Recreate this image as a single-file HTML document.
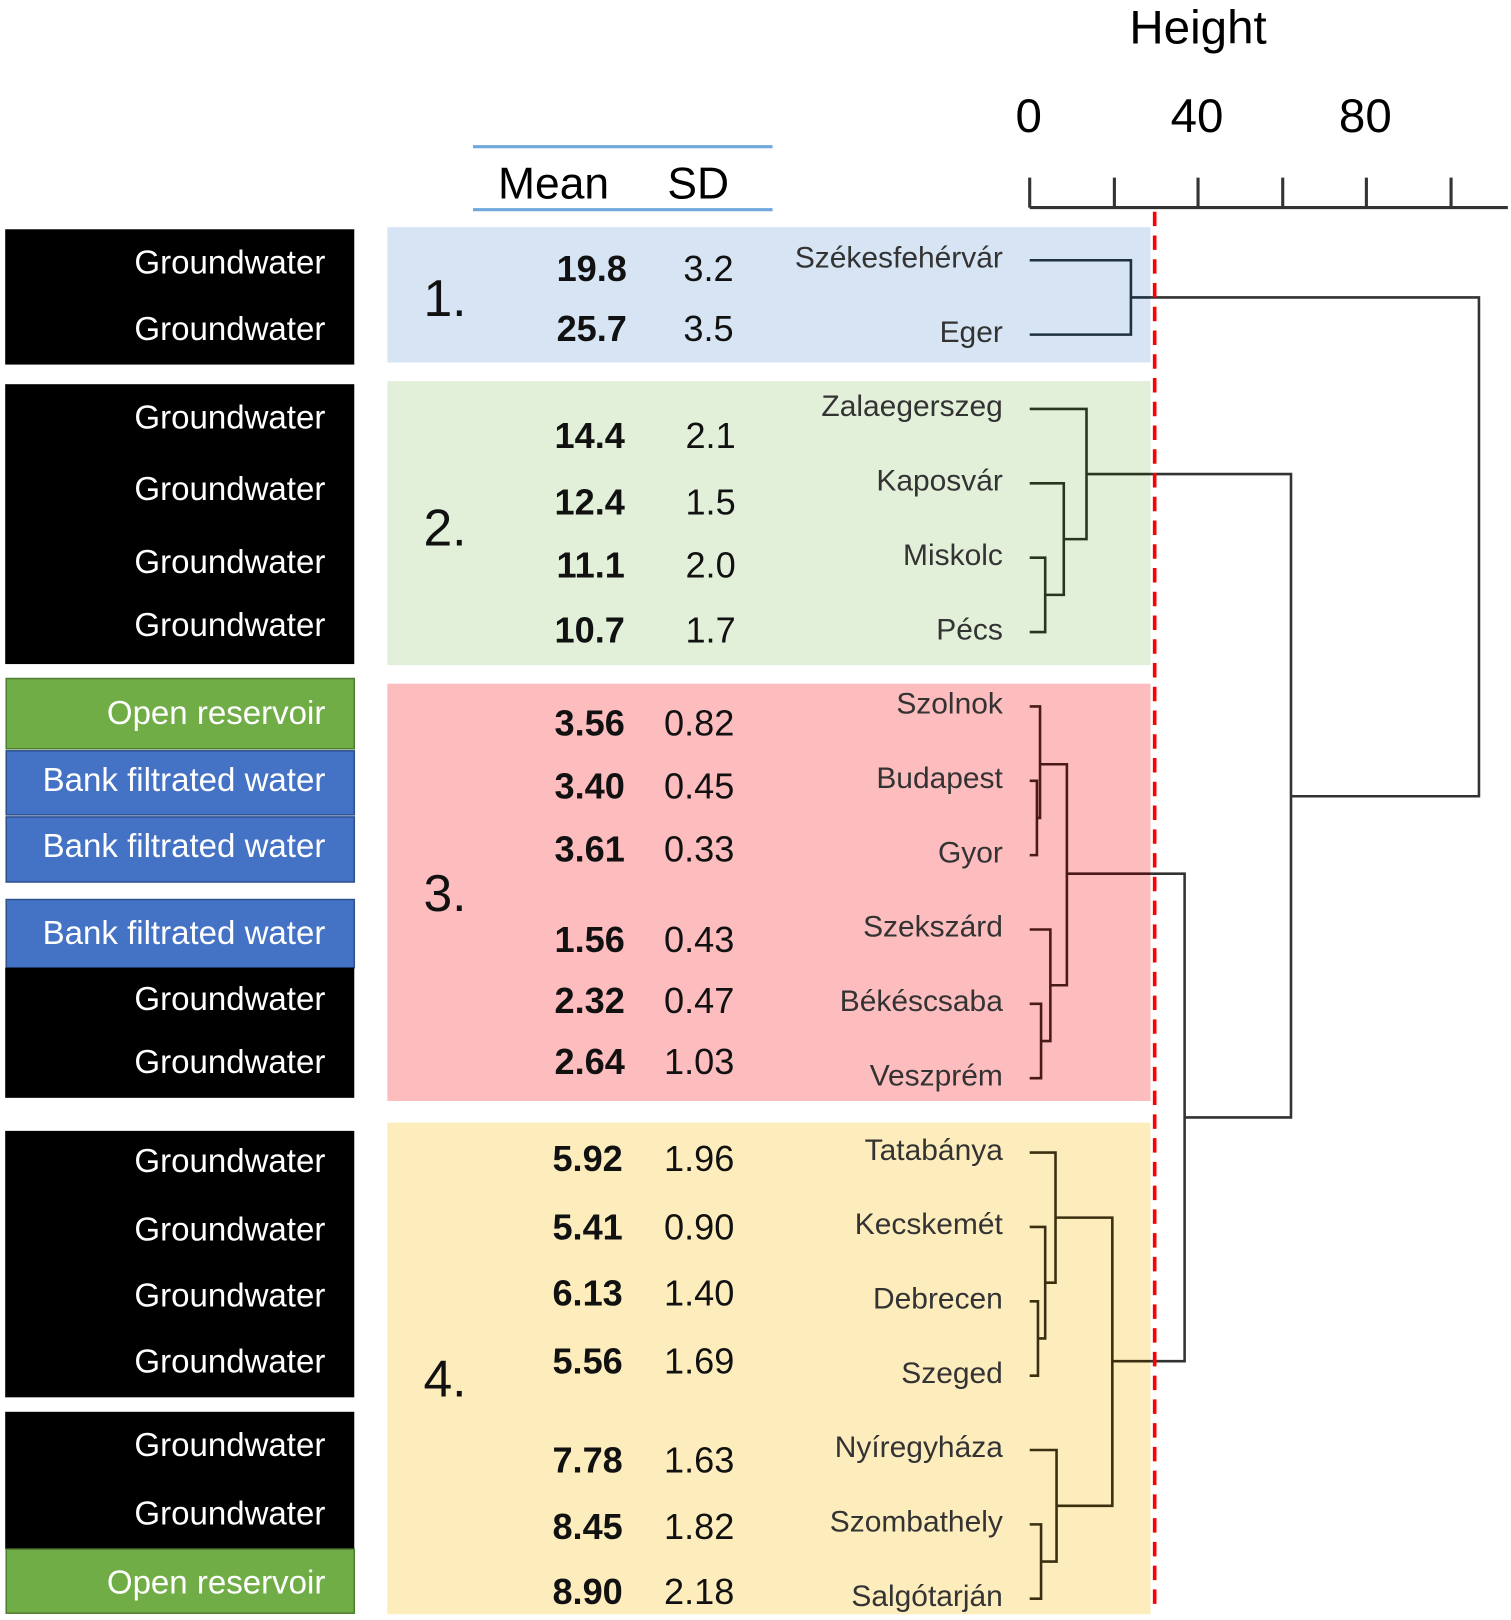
<!DOCTYPE html>
<html><head><meta charset="utf-8"><style>
html,body{margin:0;padding:0;background:#fff;}
svg{display:block}
text{font-family:"Liberation Sans",sans-serif;}
.lb{fill:#fff;font-size:32px;text-anchor:end}
.mn{font-weight:bold;font-size:35px;text-anchor:end;fill:#111}
.sd{font-size:35px;text-anchor:middle;fill:#111}
.ct{font-size:29px;text-anchor:end;fill:#333}
.cn{font-size:50px;fill:#111}
.d{fill:none;stroke-width:2.5}
</style></head><body>
<svg width="1511" height="1620" viewBox="0 0 1463 1568.6" xmlns="http://www.w3.org/2000/svg">
<text x="1160" y="42" style="font-size:46px" text-anchor="middle">Height</text>
<text x="996" y="128" style="font-size:46px" text-anchor="middle">0</text>
<text x="1159" y="128" style="font-size:46px" text-anchor="middle">40</text>
<text x="1322" y="128" style="font-size:46px" text-anchor="middle">80</text>
<g stroke="#333" stroke-width="3" fill="none">
<path d="M997 201H1460M997 172V201M1079 172V201M1160 172V201M1242 172V201M1323 172V201M1405 172V201"/>
</g>
<path d="M458 142H748M458 203H748" stroke="#6fa8dc" stroke-width="3"/>
<text x="536" y="192" style="font-size:43px" text-anchor="middle">Mean</text>
<text x="676" y="192" style="font-size:43px" text-anchor="middle">SD</text>

<rect x="375" y="220" width="739" height="131" fill="#d6e4f3"/>
<rect x="375" y="369" width="739" height="275" fill="#e2efd9"/>
<rect x="375" y="662" width="739" height="404" fill="#fdbcbd"/>
<rect x="375" y="1087" width="739" height="476" fill="#fdedbd"/>

<rect x="5" y="222" width="338" height="131" fill="#000"/>
<rect x="5" y="372" width="338" height="271" fill="#000"/>
<rect x="6" y="657" width="337" height="68" fill="#70ad47" stroke="#507e32" stroke-width="1.5"/>
<rect x="6" y="727" width="337" height="62" fill="#4472c4" stroke="#2f528f" stroke-width="1.5"/>
<rect x="6" y="791" width="337" height="63" fill="#4472c4" stroke="#2f528f" stroke-width="1.5"/>
<rect x="6" y="871" width="337" height="66" fill="#4472c4" stroke="#2f528f" stroke-width="1.5"/>
<rect x="5" y="937" width="338" height="126" fill="#000"/>
<rect x="5" y="1095" width="338" height="258" fill="#000"/>
<rect x="5" y="1367" width="338" height="133" fill="#000"/>
<rect x="6" y="1500" width="337" height="62" fill="#70ad47" stroke="#507e32" stroke-width="1.5"/>

<text class="lb" x="315" y="265">Groundwater</text>
<text class="lb" x="315" y="329">Groundwater</text>
<text class="lb" x="315" y="415">Groundwater</text>
<text class="lb" x="315" y="484">Groundwater</text>
<text class="lb" x="315" y="555">Groundwater</text>
<text class="lb" x="315" y="616">Groundwater</text>
<text class="lb" x="315" y="701">Open reservoir</text>
<text class="lb" x="315" y="766">Bank filtrated water</text>
<text class="lb" x="315" y="830">Bank filtrated water</text>
<text class="lb" x="315" y="914">Bank filtrated water</text>
<text class="lb" x="315" y="978">Groundwater</text>
<text class="lb" x="315" y="1039">Groundwater</text>
<text class="lb" x="315" y="1135">Groundwater</text>
<text class="lb" x="315" y="1201">Groundwater</text>
<text class="lb" x="315" y="1265">Groundwater</text>
<text class="lb" x="315" y="1329">Groundwater</text>
<text class="lb" x="315" y="1410">Groundwater</text>
<text class="lb" x="315" y="1476">Groundwater</text>
<text class="lb" x="315" y="1543">Open reservoir</text>

<text class="cn" x="410" y="306">1.</text>
<text class="cn" x="410" y="528">2.</text>
<text class="cn" x="410" y="882">3.</text>
<text class="cn" x="410" y="1352">4.</text>

<text class="mn" x="607" y="272">19.8</text><text class="sd" x="686" y="272">3.2</text>
<text class="mn" x="607" y="330">25.7</text><text class="sd" x="686" y="330">3.5</text>
<text class="mn" x="605" y="434">14.4</text><text class="sd" x="688" y="434">2.1</text>
<text class="mn" x="605" y="498">12.4</text><text class="sd" x="688" y="498">1.5</text>
<text class="mn" x="605" y="559">11.1</text><text class="sd" x="688" y="559">2.0</text>
<text class="mn" x="605" y="622">10.7</text><text class="sd" x="688" y="622">1.7</text>
<text class="mn" x="605" y="712">3.56</text><text class="sd" x="677" y="712">0.82</text>
<text class="mn" x="605" y="773">3.40</text><text class="sd" x="677" y="773">0.45</text>
<text class="mn" x="605" y="834">3.61</text><text class="sd" x="677" y="834">0.33</text>
<text class="mn" x="605" y="922">1.56</text><text class="sd" x="677" y="922">0.43</text>
<text class="mn" x="605" y="981">2.32</text><text class="sd" x="677" y="981">0.47</text>
<text class="mn" x="605" y="1040">2.64</text><text class="sd" x="677" y="1040">1.03</text>
<text class="mn" x="603" y="1134">5.92</text><text class="sd" x="677" y="1134">1.96</text>
<text class="mn" x="603" y="1200">5.41</text><text class="sd" x="677" y="1200">0.90</text>
<text class="mn" x="603" y="1264">6.13</text><text class="sd" x="677" y="1264">1.40</text>
<text class="mn" x="603" y="1330">5.56</text><text class="sd" x="677" y="1330">1.69</text>
<text class="mn" x="603" y="1426">7.78</text><text class="sd" x="677" y="1426">1.63</text>
<text class="mn" x="603" y="1490">8.45</text><text class="sd" x="677" y="1490">1.82</text>
<text class="mn" x="603" y="1553">8.90</text><text class="sd" x="677" y="1553">2.18</text>

<text class="ct" x="971" y="259">Székesfehérvár</text>
<text class="ct" x="971" y="331">Eger</text>
<text class="ct" x="971" y="403">Zalaegerszeg</text>
<text class="ct" x="971" y="475">Kaposvár</text>
<text class="ct" x="971" y="547">Miskolc</text>
<text class="ct" x="971" y="619">Pécs</text>
<text class="ct" x="971" y="691">Szolnok</text>
<text class="ct" x="971" y="763">Budapest</text>
<text class="ct" x="971" y="835">Gyor</text>
<text class="ct" x="971" y="907">Szekszárd</text>
<text class="ct" x="971" y="979">Békéscsaba</text>
<text class="ct" x="971" y="1051">Veszprém</text>
<text class="ct" x="971" y="1123">Tatabánya</text>
<text class="ct" x="971" y="1195">Kecskemét</text>
<text class="ct" x="971" y="1267">Debrecen</text>
<text class="ct" x="971" y="1339">Szeged</text>
<text class="ct" x="971" y="1411">Nyíregyháza</text>
<text class="ct" x="971" y="1483">Szombathely</text>
<text class="ct" x="971" y="1555">Salgótarján</text>

<path class="d" stroke="#1f3040" d="M997 252H1095V324H997M1095 288H1114"/>
<path class="d" stroke="#333" d="M1114 288H1432V771H1250"/>
<path class="d" stroke="#2a3520" d="M997 540H1012V612H997M997 468H1030V576H1012M997 396H1052V522H1030M1052 459H1114"/>
<path class="d" stroke="#333" d="M1114 459H1250V1082H1147"/>
<path class="d" stroke="#4a1a1a" d="M997 756H1004V828H997M997 684H1007V792H1004M997 972H1008V1044H997M997 900H1017V1008H1008M1007 740H1033V954H1017M1033 846H1114"/>
<path class="d" stroke="#333" d="M1114 846H1147V1318H1114"/>
<path class="d" stroke="#3a3010" d="M997 1260H1005V1332H997M997 1188H1012V1296H1005M997 1116H1022V1242H1012M997 1476H1008V1548H997M997 1404H1023V1512H1008M1022 1179H1077V1458H1023M1077 1318H1114"/>
<path d="M1118 205V1562" stroke="#f00" stroke-width="3.5" stroke-dasharray="14,9"/>
</svg>
</body></html>
